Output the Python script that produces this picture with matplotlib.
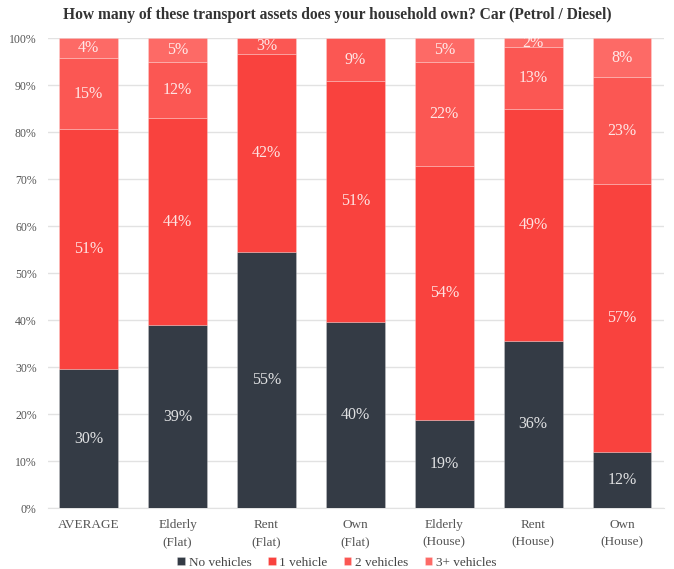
import matplotlib.pyplot as plt
import numpy as np

groups = ['AVERAGE', 'Elderly\n(Flat)', 'Rent\n(Flat)', 'Own\n(Flat)',
          'Elderly\n(House)', 'Rent\n(House)', 'Own\n(House)']
no_vehicles = [29.6, 38.9, 54.6, 39.6, 18.7, 35.6, 11.9]
one_vehicle = [51.0, 44.1, 42.0, 51.3, 54.1, 49.3, 57.0]
two_vehicles = [15.1, 11.9, 3.4, 9.1, 22.1, 13.2, 22.8]
three_plus = [4.3, 5.1, 0.0, 0.0, 5.1, 1.9, 8.3]

series = [('No vehicles', no_vehicles, '#343b45'),
          ('1 vehicle', one_vehicle, '#f9423e'),
          ('2 vehicles', two_vehicles, '#fb5753'),
          ('3+ vehicles', three_plus, '#fd6a66')]

plt.rcParams['font.family'] = ['Liberation Serif', 'DejaVu Serif']

fig = plt.figure(figsize=(6.74, 5.69), dpi=100)
ax = fig.add_axes([0.071, 0.107, 0.914, 0.826])

x = np.arange(len(groups))
bottom = np.zeros(len(groups))
for name, vals, col in series:
    vals = np.array(vals)
    ax.bar(x, vals, 0.66, bottom=bottom, color=col, label=name,
           edgecolor=(1, 1, 1, 0.25), linewidth=0.6, zorder=3)
    for xi, b, v in zip(x, bottom, vals):
        if v >= 1.5:
            ax.text(xi, b + v / 2, '{:.0f}%'.format(v), ha='center', va='center',
                    color='white', alpha=0.85, fontsize=11.5, zorder=4)
    bottom += vals

ax.set_xlim(-0.46, 6.47)
ax.set_ylim(0, 100)
ax.set_yticks(range(0, 101, 10))
ax.set_yticklabels(['{}%'.format(t) for t in range(0, 101, 10)])
ax.set_xticks(x)
ax.set_xticklabels(groups, linespacing=1.55)
ax.yaxis.grid(True, color='#e2e2e2', linewidth=1, zorder=0)
for s in ['top', 'right', 'left']:
    ax.spines[s].set_visible(False)
ax.spines['bottom'].set_color('#e2e2e2')
ax.tick_params(axis='both', length=0, colors='#555555', labelsize=8.5)
ax.tick_params(axis='y', pad=8)
ax.tick_params(axis='x', pad=8, labelsize=9.5)

fig.suptitle('How many of these transport assets does your household own? Car (Petrol / Diesel)',
             x=0.5, y=0.987, fontsize=11.2, fontweight='bold', color='#333333')

fig.legend(loc='lower center', bbox_to_anchor=(0.5, -0.02), ncol=4, frameon=False,
           fontsize=9.5, handlelength=0.6, handleheight=0.6, handletextpad=0.3,
           columnspacing=1.2, labelcolor='#444444')

plt.savefig('out.png')
